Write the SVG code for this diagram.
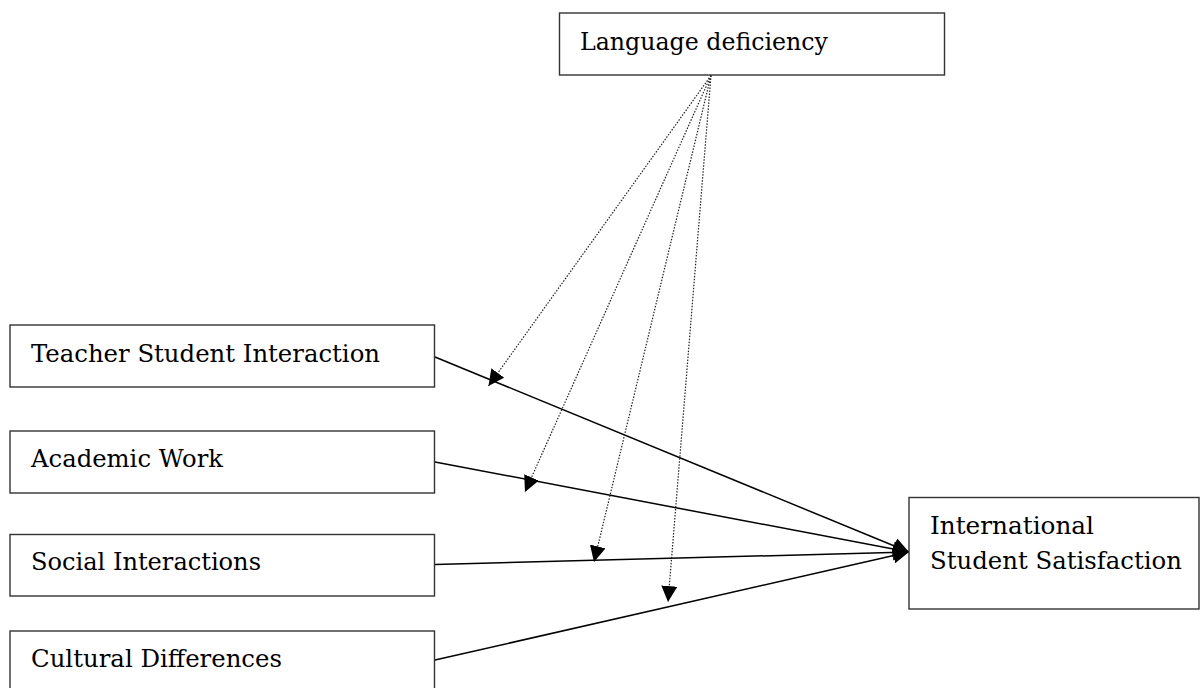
<svg xmlns="http://www.w3.org/2000/svg" width="1202" height="688" viewBox="0 0 1202 688">
<style>
.box{fill:#fff;stroke:#333;stroke-width:1.4}
.lbl{font-family:"DejaVu Serif","Liberation Serif",serif;font-size:25px;fill:#000}
.solid{stroke:#000;stroke-width:1.5;fill:none}
.dot{stroke:#222;stroke-width:1.2;stroke-dasharray:1.5 1.5;fill:none}
</style>
<defs>
<marker id="ah" markerUnits="userSpaceOnUse" markerWidth="18" markerHeight="18" refX="16" refY="8" orient="auto">
<path d="M0,0 L16,8 L0,16 z" fill="#000"/>
</marker>
</defs>
<rect width="1202" height="688" fill="#fff"/>
<g id="connectors">
<line class="solid" x1="435" y1="357" x2="909" y2="552" marker-end="url(#ah)"/>
<line class="solid" x1="435" y1="462" x2="909" y2="552" marker-end="url(#ah)"/>
<line class="solid" x1="435" y1="564.5" x2="909" y2="552" marker-end="url(#ah)"/>
<line class="solid" x1="435" y1="660" x2="909" y2="552" marker-end="url(#ah)"/>
<line class="dot" x1="711" y1="75.5" x2="488.5" y2="386" marker-end="url(#ah)"/>
<line class="dot" x1="711" y1="75.5" x2="525" y2="492" marker-end="url(#ah)"/>
<line class="dot" x1="711" y1="75.5" x2="594" y2="562" marker-end="url(#ah)"/>
<line class="dot" x1="711" y1="75.5" x2="668" y2="602" marker-end="url(#ah)"/>
</g>
<g id="language">
<rect class="box" x="559.5" y="13" width="385" height="62"/>
<text class="lbl" x="580" y="50" textLength="248" lengthAdjust="spacingAndGlyphs">Language deficiency</text>
</g>
<g id="teacher">
<rect class="box" x="10" y="325" width="424.5" height="62"/>
<text class="lbl" x="31" y="362" textLength="349" lengthAdjust="spacingAndGlyphs">Teacher Student Interaction</text>
</g>
<g id="academic">
<rect class="box" x="10" y="431" width="424.5" height="62"/>
<text class="lbl" x="31" y="467" textLength="192" lengthAdjust="spacingAndGlyphs">Academic Work</text>
</g>
<g id="social">
<rect class="box" x="10" y="534.5" width="424.5" height="61.5"/>
<text class="lbl" x="31" y="570" textLength="230" lengthAdjust="spacingAndGlyphs">Social Interactions</text>
</g>
<g id="cultural">
<rect class="box" x="10" y="631" width="424.5" height="62"/>
<text class="lbl" x="31" y="667" textLength="251" lengthAdjust="spacingAndGlyphs">Cultural Differences</text>
</g>
<g id="satisfaction">
<rect class="box" x="909" y="497.5" width="290" height="111.5"/>
<text class="lbl" x="930" y="534" textLength="164" lengthAdjust="spacingAndGlyphs">International</text>
<text class="lbl" x="930" y="569" textLength="252" lengthAdjust="spacingAndGlyphs">Student Satisfaction</text>
</g>
</svg>
